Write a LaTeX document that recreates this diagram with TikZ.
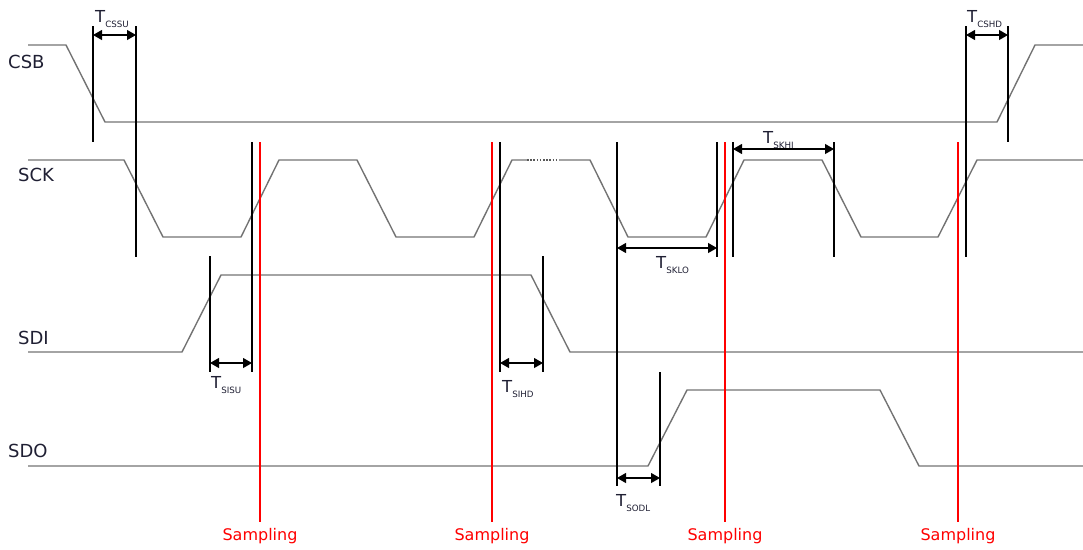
\documentclass[tikz,border=0pt]{standalone}
\usepackage{fontspec}
\setmainfont{DejaVu Sans}
\usetikzlibrary{arrows.meta}
\definecolor{lab}{rgb}{0.12,0.12,0.2}
\newcommand{\Tsub}[1]{{\fontsize{16.5}{16.5}\selectfont T}\raisebox{-5pt}{\fontsize{8.7}{8.7}\selectfont #1}}
\begin{document}
\begin{tikzpicture}[x=1pt,y=-1pt,
  sig/.style={draw=black!55, line width=1.4pt, line join=round},
  vl/.style={draw=black, line width=1.1pt},
  rl/.style={draw=red, line width=1.1pt},
  dimarrow/.style={draw=black, line width=1.1pt, {Triangle[length=9pt,width=10pt]}-{Triangle[length=9pt,width=10pt]}},
  slab/.style={font=\fontsize{18}{18}\selectfont, text=lab, anchor=west, inner sep=0},
  samp/.style={font=\fontsize{16}{16}\selectfont, text=red, inner sep=0, anchor=base},
  tl/.style={inner sep=0, anchor=base west, text=lab}]
\useasboundingbox (0,0) rectangle (1083,549);
% signal labels
\node[slab] (csb) at (8,62) {CSB};
\node[slab] (sck) at (18,175) {SCK};
\node[slab] (sdi) at (18,338) {SDI};
\node[slab] (sdo) at (8,451) {SDO};
% waveforms
\draw[sig] (28,45) -- (66,45) -- (105,122) -- (997,122) -- (1035,45) -- (1083,45);
\draw[sig] (28,160) -- (124,160) -- (163,237) -- (241,237) -- (279,160) -- (357,160) -- (396,237) -- (474,237) -- (512,160) -- (527,160);
\draw[draw=black!65, line width=1.4pt, dash pattern=on 1.6pt off 1.6pt] (527,160) -- (559,160);
\draw[sig] (559,160) -- (590,160) -- (628,237) -- (706,237) -- (744,160) -- (822,160) -- (861,237) -- (938,237) -- (977,160) -- (1083,160);
\draw[sig] (28,352) -- (182,352) -- (221,275) -- (531,275) -- (570,352) -- (1083,352);
\draw[sig] (28,466) -- (648,466) -- (687,390) -- (880,390) -- (919,466) -- (1083,466);
% red sampling lines
\foreach \x/\n in {260/a,492/b,725/c,958/d}{
  \coordinate (r\n t) at (\x,142);
  \coordinate (r\n b) at (\x,522);
  \draw[rl] (r\n t) -- (r\n b);
  \node[samp] (s\n) at (\x,540) {Sampling};
}
% black timing lines
\coordinate (c1t) at (93,26);   \coordinate (c1b) at (93,142);
\coordinate (c2t) at (136,26);  \coordinate (c2b) at (136,257);
\coordinate (h1t) at (966,26);  \coordinate (h1b) at (966,257);
\coordinate (h2t) at (1008,26); \coordinate (h2b) at (1008,142);
\coordinate (k1t) at (252,142); \coordinate (k1b) at (252,372);
\coordinate (i1t) at (210,256); \coordinate (i1b) at (210,372);
\coordinate (k2t) at (500,142); \coordinate (k2b) at (500,372);
\coordinate (i2t) at (543,256); \coordinate (i2b) at (543,372);
\coordinate (k3t) at (617,142); \coordinate (k3b) at (617,486);
\coordinate (o1t) at (660,372); \coordinate (o1b) at (660,486);
\coordinate (k4t) at (717,142); \coordinate (k4b) at (717,257);
\coordinate (k5t) at (733,142); \coordinate (k5b) at (733,257);
\coordinate (k6t) at (834,142); \coordinate (k6b) at (834,257);
\foreach \n in {c1,c2,h1,h2,k1,i1,k2,i2,k3,o1,k4,k5,k6}{\draw[vl] (\n t) -- (\n b);}
% dimension arrows
\coordinate (ac1) at (93,35);  \coordinate (ac2) at (136,35);
\coordinate (ah1) at (966,35); \coordinate (ah2) at (1008,35);
\coordinate (ai1) at (210,363); \coordinate (ai2) at (252,363);
\coordinate (aj1) at (500,363); \coordinate (aj2) at (543,363);
\coordinate (al1) at (617,248); \coordinate (al2) at (717,248);
\coordinate (ak1) at (733,149); \coordinate (ak2) at (834,149);
\coordinate (ao1) at (617,478); \coordinate (ao2) at (660,478);
\foreach \a/\b in {ac1/ac2,ah1/ah2,ai1/ai2,aj1/aj2,al1/al2,ak1/ak2,ao1/ao2}{\draw[dimarrow] (\a) -- (\b);}
% timing labels
\node[tl] (tcssu) at (95,22) {\Tsub{CSSU}};
\node[tl] (tcshd) at (967,22) {\Tsub{CSHD}};
\node[tl] (tskhi) at (763,143) {\Tsub{SKHI}};
\node[tl] (tsklo) at (656,268) {\Tsub{SKLO}};
\node[tl] (tsisu) at (211,388) {\Tsub{SISU}};
\node[tl] (tsihd) at (502,392) {\Tsub{SIHD}};
\node[tl] (tsodl) at (616,506) {\Tsub{SODL}};
\end{tikzpicture}
\end{document}
